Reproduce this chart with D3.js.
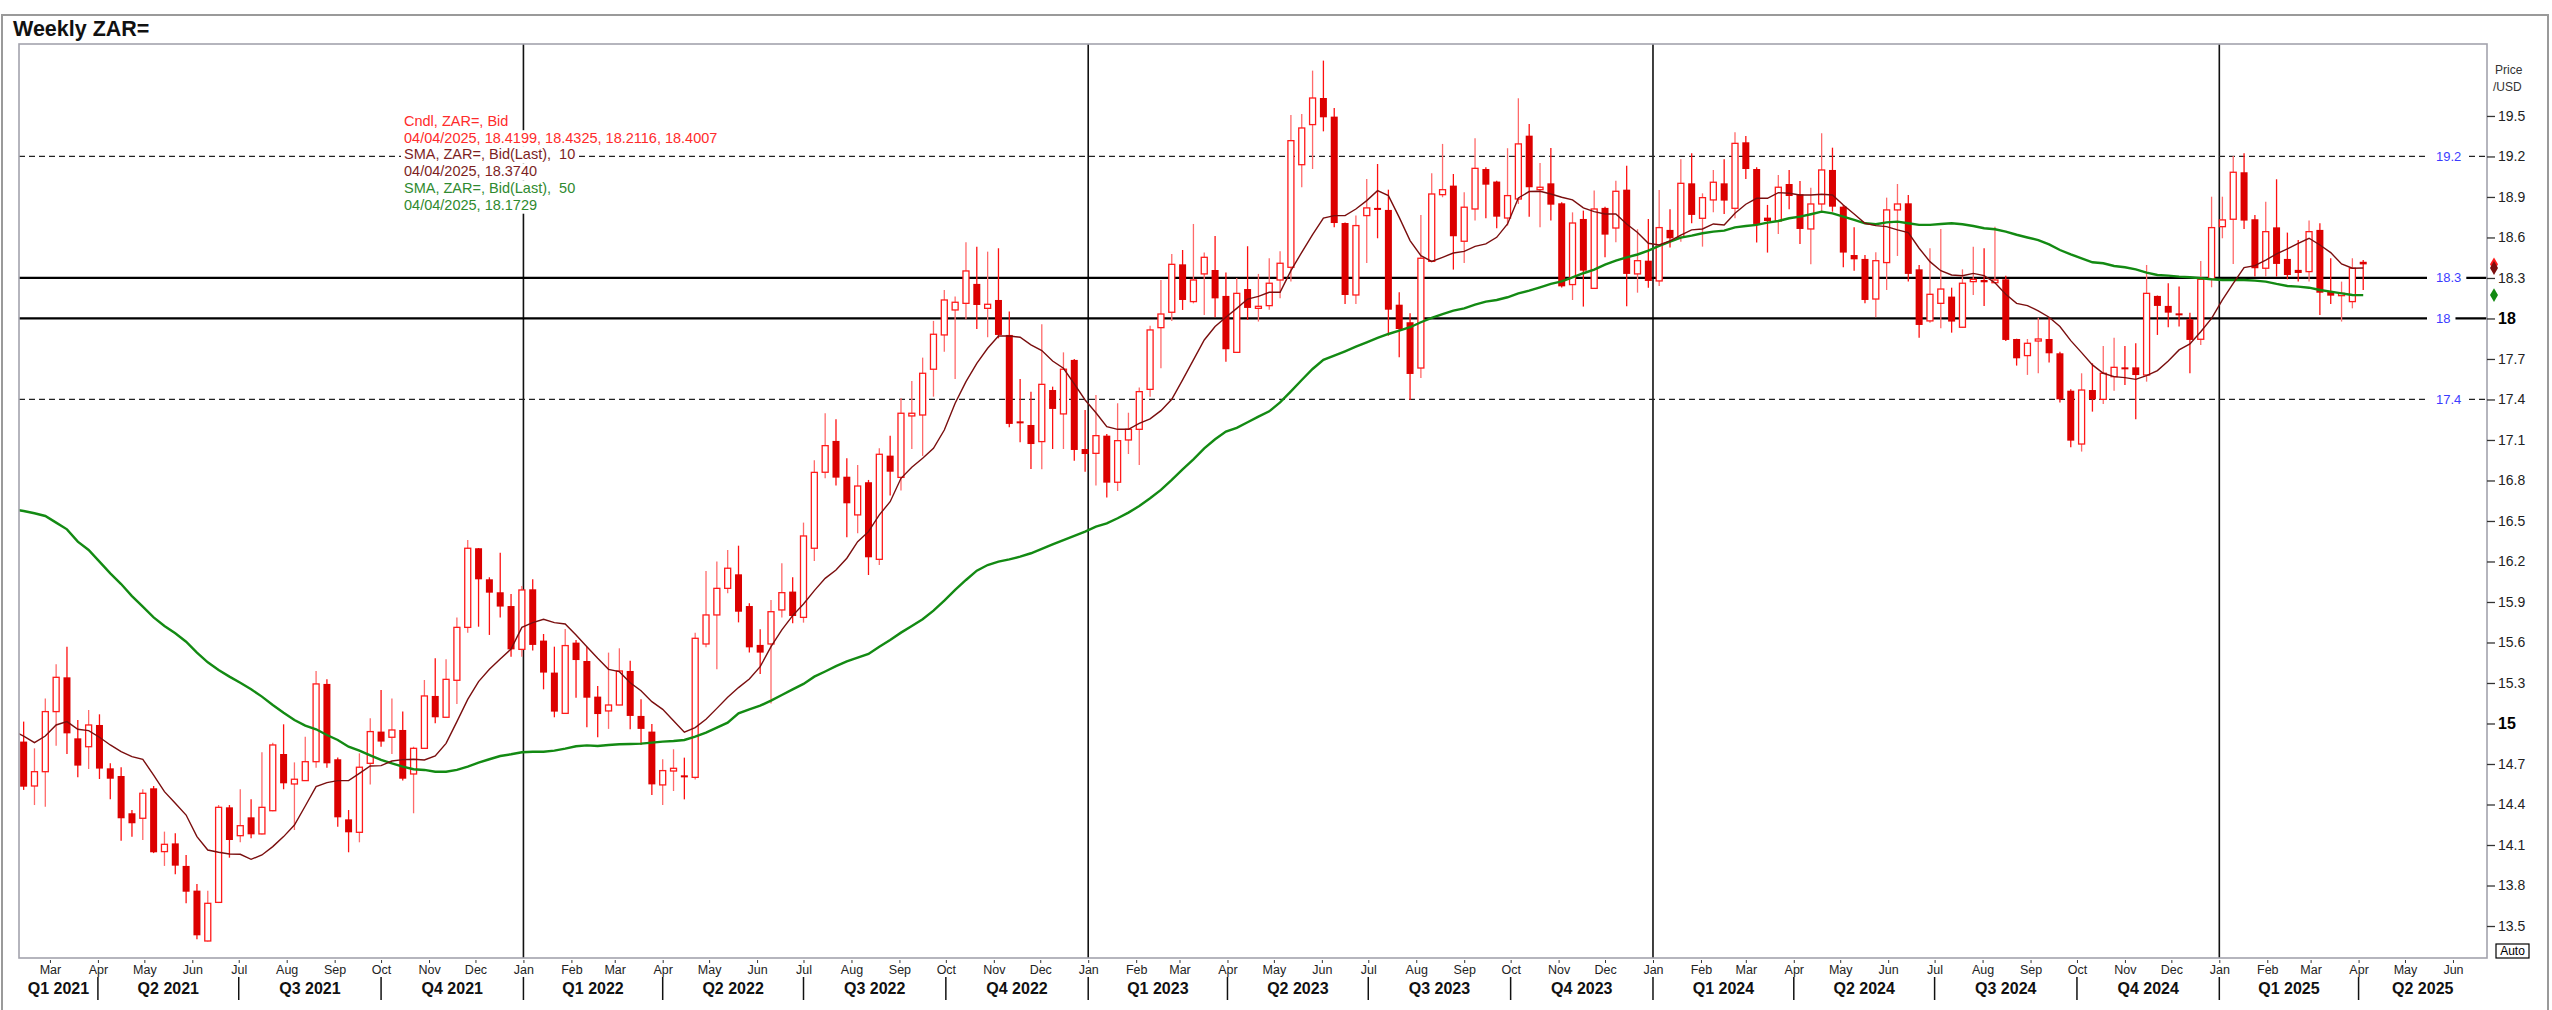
<!DOCTYPE html>
<html><head><meta charset="utf-8">
<script src="https://cdn.jsdelivr.net/npm/d3@7"></script>
<style>
body{margin:0;background:#fff;}
text{font-family:"Liberation Sans",Arial,sans-serif;white-space:pre;}
</style>
</head><body>
<svg id="chart" width="2552" height="1010"></svg>
<script>
// ---------------- DATA ----------------
const title = "Weekly ZAR=";
const firstCandle = Date.UTC(2021, 1, 12); // Friday of first weekly candle
const opens = [
14.866,14.537,14.643,15.088,15.342,14.890,14.828,14.989,14.668,14.611,
14.335,14.298,14.520,14.051,14.112,13.945,13.762,13.389,13.675,14.379,
14.169,14.305,14.182,14.354,14.774,14.552,14.577,14.717,15.293,14.735,
14.290,14.194,14.705,14.940,14.898,14.952,14.626,14.816,15.204,15.046,
15.320,15.712,16.298,16.068,15.972,15.870,15.549,15.994,15.614,15.377,
15.075,15.599,15.463,15.199,15.093,15.137,15.389,15.056,14.940,14.545,
14.648,14.616,14.601,15.589,15.804,16.001,16.105,15.870,15.582,15.589,
15.841,15.977,15.786,16.298,16.861,17.093,16.828,16.545,16.787,16.216,
16.984,16.823,17.278,17.285,17.624,17.878,18.063,18.112,18.256,18.075,
18.137,17.878,17.238,17.211,17.088,17.470,17.293,17.693,17.033,17.001,
17.132,16.787,17.100,17.179,17.475,17.932,18.046,18.401,18.125,18.330,
18.359,18.167,17.749,18.218,18.075,18.095,18.285,18.379,19.139,19.436,
19.633,19.495,18.707,18.174,18.762,18.819,18.804,18.102,17.972,17.633,
18.423,18.917,18.984,18.572,18.811,19.107,19.014,18.744,18.885,19.354,
18.954,19.001,18.853,18.251,18.737,18.223,18.819,18.670,18.954,18.330,
18.428,18.278,18.656,18.601,19.001,18.742,18.878,19.001,18.816,19.305,
19.107,18.747,18.722,18.996,18.920,18.663,18.848,19.100,18.828,18.470,
18.441,18.144,18.414,18.804,18.853,18.364,17.982,18.112,18.162,17.935,
18.273,18.285,18.265,18.290,17.848,17.725,17.833,17.848,17.742,17.465,
17.070,17.470,17.401,17.569,17.638,17.638,17.581,18.167,18.093,18.038,
17.994,17.846,18.290,18.680,18.735,19.083,18.735,18.372,18.675,18.441,
18.360,18.347,18.656,18.199,18.169,18.125,18.4199];
const highs = [
15.014,14.816,15.186,15.438,15.569,15.026,15.100,15.068,14.705,14.676,
14.359,14.513,14.537,14.199,14.187,14.026,13.811,13.762,14.396,14.396,
14.513,14.438,14.787,14.858,14.994,14.712,14.902,15.389,15.327,14.749,
14.359,14.779,15.038,15.248,15.186,15.088,14.828,15.322,15.483,15.475,
15.786,16.359,16.300,16.083,16.265,15.959,16.019,16.068,15.663,15.569,
15.700,15.619,15.569,15.278,15.525,15.557,15.465,15.179,14.996,14.735,
14.809,14.747,15.673,16.130,16.199,16.285,16.317,15.890,15.698,15.915,
16.187,16.083,16.488,16.950,17.298,17.253,16.964,16.915,16.804,17.038,
17.132,17.409,17.537,17.710,17.982,18.211,18.162,18.564,18.532,18.495,
18.520,18.051,17.552,17.458,17.957,17.495,17.749,17.700,17.322,17.433,
17.145,17.372,17.302,17.488,17.947,18.285,18.478,18.507,18.700,18.488,
18.611,18.340,18.300,18.535,18.330,18.446,18.498,19.507,19.515,19.836,
19.910,19.559,18.710,18.762,19.033,19.144,18.954,18.194,18.038,18.767,
19.075,19.293,19.070,18.935,19.335,19.120,19.020,19.261,19.631,19.441,
19.152,19.263,18.860,18.786,18.799,18.947,18.828,19.021,19.132,18.661,
18.737,18.952,18.809,19.179,19.223,18.927,19.100,19.179,19.379,19.352,
19.120,18.841,19.063,19.100,19.018,18.969,19.372,19.265,18.841,18.675,
18.470,18.490,18.895,18.996,18.915,18.396,18.520,18.663,18.228,18.364,
18.532,18.520,18.680,18.317,17.850,17.848,18.006,18.006,17.754,17.475,
17.594,17.668,17.796,17.858,17.796,17.816,18.396,18.170,18.260,18.236,
18.043,18.426,18.902,18.902,19.204,19.223,18.767,18.865,19.031,18.636,
18.581,18.725,18.705,18.446,18.273,18.446,18.4325];
const lows = [
14.508,14.396,14.384,14.836,14.774,14.601,14.663,14.589,14.438,14.132,
14.162,14.137,14.040,13.945,13.883,13.668,13.401,13.385,13.670,14.006,
14.120,14.150,14.178,14.350,14.513,14.211,14.575,14.673,14.673,14.236,
14.046,14.120,14.549,14.828,14.774,14.577,14.335,14.814,15.001,15.044,
15.145,15.673,15.717,15.656,15.786,15.495,15.495,15.540,15.253,15.046,
15.073,15.191,14.972,14.898,14.960,15.135,14.957,14.841,14.470,14.396,
14.500,14.438,14.586,15.564,15.401,15.964,15.749,15.525,15.367,15.149,
15.786,15.742,15.747,16.204,16.816,16.762,16.379,16.409,16.100,16.174,
16.688,16.725,17.033,16.982,17.421,17.754,17.552,17.994,17.922,17.861,
17.853,17.194,17.083,16.885,16.883,17.033,17.033,16.947,16.865,16.762,
16.673,16.722,16.996,16.915,17.421,17.631,17.982,18.063,18.112,18.026,
18.009,17.680,17.745,17.989,17.977,18.065,18.149,18.273,18.972,19.107,
19.386,18.675,18.107,18.107,18.411,18.594,17.873,17.712,17.396,17.559,
18.416,18.898,18.362,18.411,18.725,18.742,18.668,18.688,18.848,18.754,
18.675,18.725,18.230,18.137,18.088,18.220,18.453,18.564,18.090,18.191,
18.228,18.241,18.525,18.569,18.705,18.532,18.786,18.774,18.742,19.033,
18.562,18.488,18.626,18.809,18.552,18.401,18.791,18.791,18.379,18.354,
18.112,18.009,18.211,18.463,18.273,17.858,17.969,17.927,17.895,17.930,
18.174,18.093,18.260,17.833,17.651,17.582,17.594,17.673,17.377,17.046,
17.014,17.310,17.367,17.465,17.507,17.253,17.532,17.878,17.935,17.940,
17.594,17.804,18.231,18.594,18.404,18.663,18.310,18.310,18.310,18.290,
18.273,18.273,18.026,18.107,17.977,18.075,18.2116];
const closes = [
14.532,14.643,15.088,15.342,14.927,14.688,14.989,14.666,14.591,14.298,
14.261,14.483,14.046,14.105,13.947,13.754,13.431,13.668,14.379,14.137,
14.243,14.179,14.379,14.841,14.557,14.587,14.717,15.293,14.705,14.305,
14.194,14.676,14.940,14.866,14.952,14.591,14.816,15.204,15.046,15.327,
15.712,16.298,16.068,15.969,15.866,15.549,15.989,15.582,15.377,15.088,
15.577,15.470,15.191,15.070,15.137,15.389,15.056,14.960,14.549,14.651,
14.668,14.601,15.631,15.804,16.001,16.150,15.828,15.564,15.525,15.828,
15.969,15.796,16.389,16.860,17.058,16.821,16.631,16.759,16.231,16.994,
16.865,17.298,17.298,17.594,17.883,18.137,18.120,18.352,18.100,18.105,
17.878,17.219,17.228,17.070,17.512,17.330,17.624,17.026,16.996,17.132,
16.784,17.095,17.179,17.458,17.915,18.033,18.401,18.137,18.285,18.453,
18.149,17.772,18.186,18.078,18.090,18.261,18.409,19.317,19.411,19.633,
19.490,18.707,18.174,18.688,18.819,18.804,18.065,17.922,17.589,18.446,
18.922,18.954,18.609,18.824,19.112,18.991,18.754,18.910,19.293,18.972,
18.972,18.843,18.238,18.707,18.354,18.811,18.621,18.942,18.330,18.428,
18.278,18.673,18.594,19.001,18.767,18.895,19.009,18.873,19.297,19.107,
18.700,18.722,18.972,18.907,18.663,18.848,19.100,18.828,18.488,18.438,
18.137,18.428,18.804,18.848,18.330,17.952,18.179,18.218,17.977,18.261,
18.290,18.268,18.285,17.841,17.705,17.816,17.848,17.742,17.401,17.095,
17.470,17.401,17.594,17.638,17.624,17.581,18.186,18.093,18.043,18.026,
17.841,18.290,18.673,18.730,19.083,18.725,18.372,18.643,18.404,18.322,
18.337,18.643,18.191,18.169,18.186,18.372,18.4007];
// moving averages; first value is one week before the first candle
const sma10 = [
14.947,14.907,14.858,14.907,14.989,15.014,14.957,14.947,14.898,14.841,14.791,
14.754,14.735,14.618,14.495,14.409,14.322,14.162,14.063,14.046,14.033,
14.031,13.994,14.026,14.088,14.162,14.248,14.389,14.532,14.562,14.577,
14.577,14.631,14.685,14.688,14.722,14.732,14.735,14.730,14.759,14.853,
15.014,15.179,15.310,15.401,15.478,15.552,15.712,15.747,15.772,15.747,
15.737,15.656,15.569,15.483,15.401,15.384,15.302,15.243,15.162,15.105,
15.021,14.935,14.969,15.031,15.112,15.194,15.266,15.330,15.421,15.569,
15.693,15.799,15.885,15.984,16.075,16.137,16.224,16.347,16.421,16.545,
16.643,16.816,16.898,16.964,17.038,17.174,17.372,17.532,17.668,17.779,
17.870,17.870,17.861,17.804,17.762,17.685,17.631,17.515,17.396,17.302,
17.199,17.179,17.179,17.223,17.256,17.317,17.401,17.545,17.693,17.841,
17.940,18.009,18.075,18.144,18.164,18.194,18.194,18.354,18.490,18.621,
18.744,18.762,18.762,18.811,18.873,18.947,18.910,18.749,18.577,18.465,
18.423,18.453,18.485,18.497,18.534,18.552,18.601,18.700,18.893,18.940,
18.942,18.922,18.898,18.878,18.819,18.791,18.774,18.774,18.700,18.637,
18.557,18.544,18.574,18.618,18.656,18.663,18.700,18.693,18.779,18.846,
18.890,18.890,18.932,18.927,18.915,18.915,18.920,18.915,18.841,18.774,
18.705,18.688,18.680,18.656,18.636,18.520,18.421,18.354,18.322,18.317,
18.334,18.317,18.265,18.179,18.112,18.095,18.057,18.009,17.940,17.836,
17.747,17.656,17.594,17.569,17.562,17.549,17.577,17.614,17.685,17.767,
17.811,17.902,18.001,18.137,18.260,18.377,18.391,18.433,18.478,18.515,
18.557,18.594,18.544,18.488,18.404,18.372,18.374];
const sma50 = [
16.586,16.574,16.557,16.537,16.488,16.438,16.347,16.285,16.199,16.112,16.033,
15.944,15.865,15.786,15.722,15.668,15.606,15.525,15.453,15.396,15.347,
15.302,15.253,15.199,15.137,15.080,15.026,14.984,14.957,14.915,14.878,
14.828,14.799,14.764,14.730,14.705,14.680,14.661,14.656,14.643,14.643,
14.656,14.680,14.710,14.735,14.759,14.772,14.787,14.791,14.791,14.799,
14.814,14.831,14.838,14.833,14.841,14.846,14.848,14.851,14.858,14.866,
14.870,14.878,14.902,14.932,14.969,15.006,15.075,15.105,15.132,15.169,
15.211,15.253,15.293,15.347,15.385,15.425,15.460,15.488,15.515,15.569,
15.619,15.673,15.722,15.772,15.836,15.910,15.989,16.063,16.132,16.174,
16.199,16.216,16.236,16.261,16.293,16.327,16.359,16.389,16.421,16.458,
16.483,16.520,16.562,16.611,16.668,16.730,16.804,16.883,16.957,17.038,
17.105,17.162,17.190,17.231,17.273,17.312,17.379,17.460,17.544,17.626,
17.693,17.725,17.757,17.791,17.823,17.856,17.885,17.910,17.935,17.972,
18.004,18.033,18.058,18.075,18.102,18.125,18.137,18.157,18.186,18.206,
18.231,18.256,18.275,18.305,18.335,18.362,18.399,18.428,18.453,18.474,
18.502,18.537,18.569,18.599,18.614,18.631,18.643,18.651,18.675,18.685,
18.693,18.710,18.722,18.742,18.754,18.772,18.791,18.779,18.754,18.730,
18.705,18.698,18.712,18.717,18.705,18.693,18.693,18.700,18.705,18.698,
18.685,18.668,18.661,18.643,18.620,18.600,18.581,18.549,18.507,18.475,
18.446,18.416,18.409,18.389,18.379,18.364,18.340,18.322,18.317,18.310,
18.305,18.298,18.290,18.285,18.285,18.285,18.280,18.273,18.256,18.241,
18.236,18.228,18.211,18.199,18.186,18.174,18.173];
const yTickValues = [13.5,13.8,14.1,14.4,14.7,15,15.3,15.6,15.9,16.2,16.5,16.8,17.1,17.4,17.7,18,18.3,18.6,18.9,19.2,19.5];
const dashedLevels = [19.2, 17.4];
const solidLevels = [18.3, 18];
const legendLines = [
  {text:"Cndl, ZAR=, Bid", color:"#ff2b2b"},
  {text:"04/04/2025, 18.4199, 18.4325, 18.2116, 18.4007", color:"#ff2b2b"},
  {text:"SMA, ZAR=, Bid(Last),  10", color:"#7d1f1f"},
  {text:"04/04/2025, 18.3740", color:"#7d1f1f"},
  {text:"SMA, ZAR=, Bid(Last),  50", color:"#2f8a2f"},
  {text:"04/04/2025, 18.1729", color:"#2f8a2f"}
];
const yearLines = [2022, 2023, 2024, 2025];

// ---------------- LAYOUT ----------------
const W = 2552, H = 1010;
const P = {l:19, r:2487, t:44, b:958};
const WEEK = 7*864e5;
const svg = d3.select("#chart");
svg.append("rect").attr("width",W).attr("height",H).attr("fill","#fff");
// outer frame
svg.append("rect").attr("x",2).attr("y",15).attr("width",W-6).attr("height",H+10)
  .attr("fill","none").attr("stroke","#9a9a9a").attr("stroke-width",2);
svg.append("text").attr("x",13).attr("y",36).attr("font-size",21.5).attr("font-weight","bold")
  .attr("fill","#111").text(title);

const x = d3.scaleUtc().domain([new Date(Date.UTC(2021,1,9)), new Date(Date.UTC(2025,5,23))]).range([P.l,P.r]);
const y = d3.scaleLinear().domain([13.263, 20.033]).range([P.b, P.t]);

const candles = opens.map((o,i)=>({d:new Date(firstCandle + i*WEEK), o, h:highs[i], l:lows[i], c:closes[i]}));
const smaDates = sma10.map((_,i)=> new Date(firstCandle + (i-1)*WEEK));

svg.append("clipPath").attr("id","clip").append("rect")
  .attr("x",P.l).attr("y",P.t).attr("width",P.r-P.l).attr("height",P.b-P.t);
const g = svg.append("g").attr("clip-path","url(#clip)");

// year separators
g.selectAll(".yr").data(yearLines).join("line")
  .attr("x1",d=>x(new Date(Date.UTC(d,0,1)))).attr("x2",d=>x(new Date(Date.UTC(d,0,1))))
  .attr("y1",P.t).attr("y2",P.b).attr("stroke","#111").attr("stroke-width",1.6);

// level lines
g.selectAll(".lvd").data(dashedLevels).join("line")
  .attr("x1",P.l).attr("x2",P.r).attr("y1",d=>y(d)).attr("y2",d=>y(d))
  .attr("stroke","#222").attr("stroke-width",1.3).attr("stroke-dasharray","6,4");
g.selectAll(".lvs").data(solidLevels).join("line")
  .attr("x1",P.l).attr("x2",P.r).attr("y1",d=>y(d)).attr("y2",d=>y(d))
  .attr("stroke","#000").attr("stroke-width",2.2);

// candles
const cg = g.append("g");
const up = candles.filter(d=>d.c>=d.o), dn = candles.filter(d=>d.c<d.o);
cg.selectAll(".wu").data(up).join("line")
  .attr("x1",d=>x(d.d)).attr("x2",d=>x(d.d)).attr("y1",d=>y(d.h)).attr("y2",d=>y(d.l))
  .attr("stroke","#ff6a6a").attr("stroke-width",1.3);
cg.selectAll(".wd").data(dn).join("line")
  .attr("x1",d=>x(d.d)).attr("x2",d=>x(d.d)).attr("y1",d=>y(d.h)).attr("y2",d=>y(d.l))
  .attr("stroke","#ff1010").attr("stroke-width",1.3);
cg.selectAll(".bu").data(up).join("rect")
  .attr("x",d=>x(d.d)-3).attr("width",6)
  .attr("y",d=>y(d.c)).attr("height",d=>Math.max(1.5,y(d.o)-y(d.c)))
  .attr("fill","#fff").attr("stroke","#ff1a1a").attr("stroke-width",1.3);
cg.selectAll(".bd").data(dn).join("rect")
  .attr("x",d=>x(d.d)-3.5).attr("width",7)
  .attr("y",d=>y(d.o)).attr("height",d=>Math.max(2,y(d.c)-y(d.o)))
  .attr("fill","#dc0000");

// moving averages
const line = arr => d3.line().x((_,i)=>x(smaDates[i])).y(v=>y(v))(arr);
g.append("path").attr("d",line(sma50)).attr("fill","none").attr("stroke","#138a13").attr("stroke-width",2.4);
g.append("path").attr("d",line(sma10)).attr("fill","none").attr("stroke","#7a0e0e").attr("stroke-width",1.4);

// legend (with white backgrounds)
const lg = svg.append("g");
legendLines.forEach((L,i)=>{
  const yy = 126 + i*16.7;
  const row = lg.append("g");
  const bg = row.append("rect").attr("fill","#fff");
  const t = row.append("text").attr("x",404).attr("y",yy).attr("font-size",14.5).attr("fill",L.color).text(L.text);
  const bb = t.node().getBBox();
  bg.attr("x",bb.x-3).attr("y",yy-12.5).attr("width",bb.width+6).attr("height",16.7);
});

// level labels
[...dashedLevels, ...solidLevels].forEach(v=>{
  const row = svg.append("g");
  const bg = row.append("rect").attr("fill","#fff");
  const t = row.append("text").attr("x",2436).attr("y",y(v)+4.5).attr("font-size",13).attr("fill","#3b3bff").text(String(v));
  const bb = t.node().getBBox();
  bg.attr("x",2427).attr("y",y(v)-5).attr("width",bb.x+bb.width+5-2427).attr("height",10);
});

// plot border
svg.append("rect").attr("x",P.l).attr("y",P.t).attr("width",P.r-P.l).attr("height",P.b-P.t)
  .attr("fill","none").attr("stroke","#a3a3ad").attr("stroke-width",1.6);

// right axis
const ya = svg.append("g").attr("transform",`translate(${P.r},0)`)
  .call(d3.axisRight(y).tickValues(yTickValues).tickSize(8).tickPadding(3)
    .tickFormat(d=>Number.isInteger(d)?String(d):d.toFixed(1)));
ya.select(".domain").remove();
ya.selectAll(".tick line").attr("stroke","#333").attr("stroke-width",1.3);
ya.selectAll(".tick text").attr("font-size",14).attr("fill","#222")
  .attr("font-family","'Liberation Sans',Arial,sans-serif")
  .filter(d=>Number.isInteger(d)).attr("font-weight","bold").attr("font-size",16).attr("fill","#000");
svg.append("text").attr("x",2495).attr("y",74).attr("font-size",12).attr("fill","#333").text("Price");
svg.append("text").attr("x",2493).attr("y",91).attr("font-size",12).attr("fill","#333").text("/USD");

// last-value diamonds
const last = candles[candles.length-1];
const diamonds = [
  {v:last.c, c:"#ff1a1a"},
  {v:sma10[sma10.length-1], c:"#7a0e0e"},
  {v:sma50[sma50.length-1], c:"#138a13"}];
svg.selectAll(".dm").data(diamonds).join("path")
  .attr("d",d3.symbol(d3.symbolDiamond,55))
  .attr("transform",d=>`translate(2494,${y(d.v)})`).attr("fill",d=>d.c);

// Auto box
svg.append("rect").attr("x",2496).attr("y",944).attr("width",33).attr("height",14)
  .attr("fill","#fff").attr("stroke","#000").attr("stroke-width",1.2);
svg.append("text").attr("x",2512.5).attr("y",955).attr("text-anchor","middle").attr("font-size",12).attr("fill","#000").text("Auto");

// bottom axis: months
const xa = svg.append("g").attr("transform",`translate(0,${P.b})`)
  .call(d3.axisBottom(x).ticks(d3.utcMonth.every(1)).tickSize(4).tickPadding(3).tickFormat(d3.utcFormat("%b")));
xa.select(".domain").remove();
xa.selectAll(".tick line").attr("stroke","#333").attr("y1",2).attr("y2",5);
xa.selectAll(".tick text").attr("font-size",12.5).attr("fill","#222")
  .attr("font-family","'Liberation Sans',Arial,sans-serif");

// quarters
const qStarts = d3.utcMonth.every(3).range(new Date(Date.UTC(2021,0,1)), new Date(Date.UTC(2025,6,1)));
const qg = svg.append("g");
qStarts.forEach(q=>{
  const qEnd = d3.utcMonth.offset(q,3);
  const a = Math.max(P.l, x(q)), b = Math.min(P.r, x(qEnd));
  if (b <= a) return;
  const qn = Math.floor(q.getUTCMonth()/3)+1;
  qg.append("text").attr("x",(a+b)/2).attr("y",994).attr("text-anchor","middle")
    .attr("font-size",16).attr("font-weight","bold").attr("fill","#111").text(`Q${qn} ${q.getUTCFullYear()}`);
  if (x(q) > P.l) qg.append("line").attr("x1",x(q)).attr("x2",x(q)).attr("y1",977).attr("y2",1000)
    .attr("stroke","#111").attr("stroke-width",1.5);
});
</script>
</body></html>
